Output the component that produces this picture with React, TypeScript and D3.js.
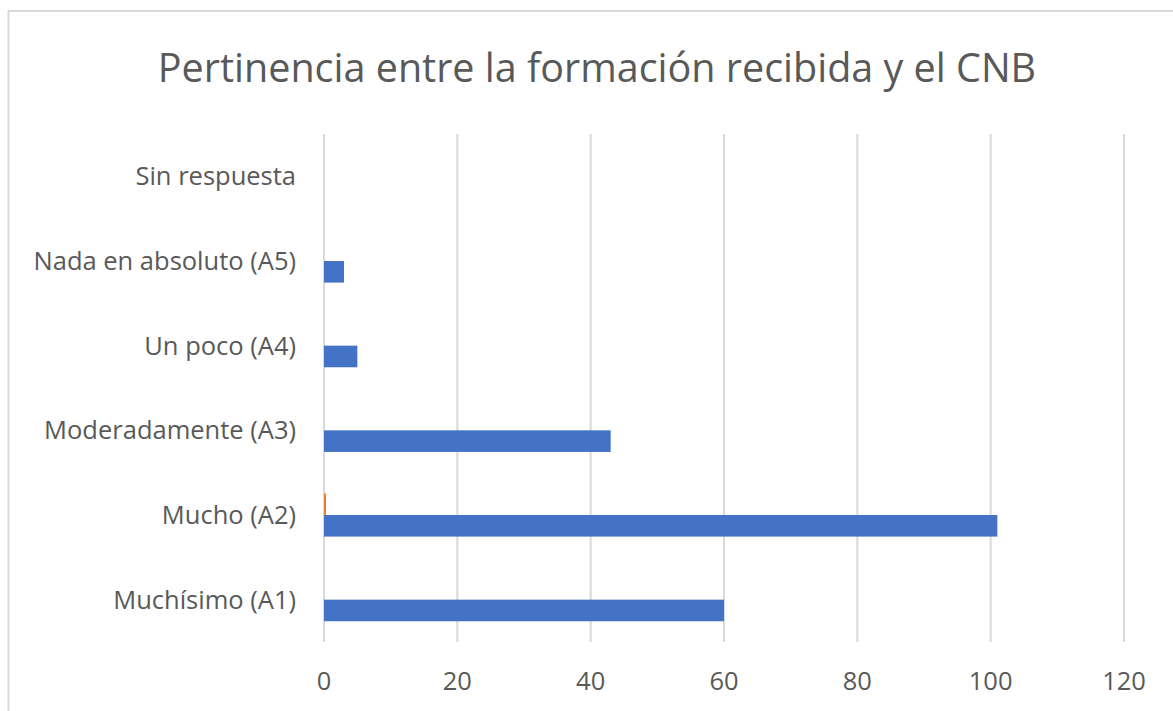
import React from 'react';
import * as d3 from 'd3';

// categories listed bottom to top as in the chart
const categories = [
  'Muchísimo (A1)',
  'Mucho (A2)',
  'Moderadamente (A3)',
  'Un poco (A4)',
  'Nada en absoluto (A5)',
  'Sin respuesta',
];
const blueValues = [60, 101, 43, 5, 3, 0];
const orangeValues = [0, 0.3, 0, 0, 0, 0];
const xTicks = [0, 20, 40, 60, 80, 100, 120];
const title = 'Pertinencia entre la formación recibida y el CNB';

const W = 1173;
const H = 711;
const font = '"Open Sans", "Noto Sans", sans-serif';
const textColor = '#595959';
const gridColor = '#d9d9d9';

const App = () => {
  const margin = { top: 134, left: 324, right: 49, bottom: 69 };

  // x scale: value -> pixels
  const x = d3.scaleLinear().domain([0, 120]).range([margin.left, W - margin.right]);

  // y bands, first category at the bottom
  const y = d3
    .scaleBand()
    .domain([...categories].reverse())
    .range([margin.top, H - margin.bottom])
    .paddingInner(0)
    .paddingOuter(0);

  const barH = y.bandwidth() * 0.255;

  return (
    <svg
      width={W}
      height={H}
      style={{ position: 'absolute', left: 0, top: 0, display: 'block', background: '#fff' }}
    >
      <rect x={8.5} y={11} width={W + 20} height={H + 20} fill='#fff' stroke={gridColor} strokeWidth={2} />

      <text x={597} y={82} textAnchor='middle' fontFamily={font} fontSize={39.5} fill={textColor}>
        {title}
      </text>

      {/* gridlines */}
      {xTicks.map((t) => (
        <line key={t} x1={x(t)} x2={x(t)} y1={margin.top} y2={H - margin.bottom} stroke={gridColor} strokeWidth={2} />
      ))}

      {/* bars */}
      {categories.map((c, i) => {
        const cy = (y(c) as number) + y.bandwidth() / 2;
        return (
          <g key={c}>
            {orangeValues[i] > 0 && (
              <rect x={x(0)} y={cy - barH} width={x(orangeValues[i]) - x(0)} height={barH} fill='#ED7D31' />
            )}
            {blueValues[i] > 0 && (
              <rect x={x(0)} y={cy} width={x(blueValues[i]) - x(0)} height={barH} fill='#4472C4' />
            )}
          </g>
        );
      })}

      {/* category labels */}
      {categories.map((c) => (
        <text
          key={c}
          x={296}
          y={(y(c) as number) + y.bandwidth() / 2}
          dy='0.35em'
          textAnchor='end'
          fontFamily={font}
          fontSize={25.5}
          fill={textColor}
        >
          {c}
        </text>
      ))}

      {/* tick labels */}
      {xTicks.map((t) => (
        <text key={t} x={x(t)} y={690} textAnchor='middle' fontFamily={font} fontSize={25.5} fill={textColor}>
          {t}
        </text>
      ))}
    </svg>
  );
};

export default App;
